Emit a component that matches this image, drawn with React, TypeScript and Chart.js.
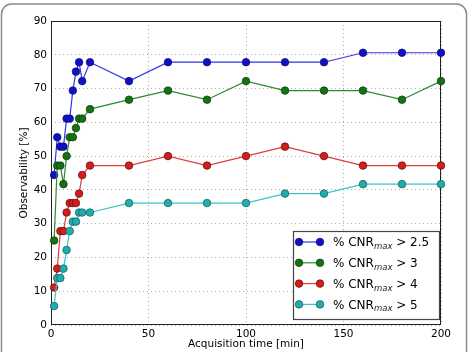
import React, { useEffect, useRef } from "react";
import { Chart, registerables } from "chart.js";

Chart.register(...registerables);

// Acquisition time [min]
const times = [1.6, 3.2, 4.8, 6.4, 8.0, 9.6, 11.2, 12.8, 14.4, 16, 20, 40, 60, 80, 100, 120, 140, 160, 180, 200];
// Observability [%]
const cnr25 = [44.4, 55.6, 52.8, 52.8, 61.1, 61.1, 69.4, 75.0, 77.8, 72.2, 77.8, 72.2, 77.8, 77.8, 77.8, 77.8, 77.8, 80.6, 80.6, 80.6];
const cnr3 = [25.0, 47.2, 47.2, 41.7, 50.0, 55.6, 55.6, 58.3, 61.1, 61.1, 63.9, 66.7, 69.4, 66.7, 72.2, 69.4, 69.4, 69.4, 66.7, 72.2];
const cnr4 = [11.1, 16.7, 27.8, 27.8, 33.3, 36.1, 36.1, 36.1, 38.9, 44.4, 47.2, 47.2, 50.0, 47.2, 50.0, 52.8, 50.0, 47.2, 47.2, 47.2];
const cnr5 = [5.6, 13.9, 13.9, 16.7, 22.2, 27.8, 30.6, 30.6, 33.3, 33.3, 33.3, 36.1, 36.1, 36.1, 36.1, 38.9, 38.9, 41.7, 41.7, 41.7];
const thresholds = ["2.5", "3", "4", "5"];
const seriesValues = [cnr25, cnr3, cnr4, cnr5];

const lineColors = ["#3434e8", "#2e8a2e", "#e03c3c", "#3cc4c4"];
const fillColors = ["#1010cc", "#137313", "#d41c1c", "#22acac"];
const edgeColors = ["#10105a", "#0f3a0f", "#5a1010", "#115a5a"];

const FONT = "'DejaVu Sans', 'Liberation Sans', sans-serif";

const framePlugin = {
  id: "frame",
  beforeDraw(chart: any) {
    const ctx = chart.ctx;
    ctx.save();
    ctx.fillStyle = "#fff";
    ctx.fillRect(0, 0, chart.width, chart.height);
    ctx.strokeStyle = "#8a8a8a";
    ctx.lineWidth = 1.5;
    const x = 1.5, y = 4, w = 465, h = 370, r = 10;
    ctx.beginPath();
    ctx.moveTo(x + r, y);
    ctx.lineTo(x + w - r, y);
    ctx.arcTo(x + w, y, x + w, y + r, r);
    ctx.lineTo(x + w, y + h);
    ctx.moveTo(x, y + h);
    ctx.lineTo(x, y + r);
    ctx.arcTo(x, y, x + r, y, r);
    ctx.stroke();
    ctx.restore();
  },
  beforeDatasetsDraw(chart: any) {
    const { ctx, chartArea } = chart;
    ctx.save();
    ctx.strokeStyle = "#222";
    ctx.lineWidth = 1;
    ctx.strokeRect(
      Math.round(chartArea.left) + 0.5,
      Math.round(chartArea.top) + 0.5,
      Math.round(chartArea.right - chartArea.left) - 1,
      Math.round(chartArea.bottom - chartArea.top) - 1
    );
    ctx.restore();
  },
};

const legendPlugin = {
  id: "mplLegend",
  afterDatasetsDraw(chart: any) {
    const { ctx, chartArea } = chart;
    const w = 146, h = 88;
    const x0 = chartArea.right - 2 - w;
    const y0 = chartArea.bottom - 6 - h;
    ctx.save();
    ctx.fillStyle = "#fff";
    ctx.fillRect(x0, y0, w, h);
    ctx.strokeStyle = "#444";
    ctx.lineWidth = 1.2;
    ctx.strokeRect(Math.round(x0) + 0.5, Math.round(y0) + 0.5, w, h);
    chart.data.datasets.forEach((ds: any, i: number) => {
      const cy = y0 + 11 + i * 20.8;
      const lx1 = x0 + 6, lx2 = x0 + 27;
      ctx.strokeStyle = ds.borderColor;
      ctx.lineWidth = 1.2;
      ctx.beginPath();
      ctx.moveTo(lx1, cy);
      ctx.lineTo(lx2, cy);
      ctx.stroke();
      [lx1, lx2].forEach((px) => {
        ctx.beginPath();
        ctx.arc(px, cy, 3.8, 0, Math.PI * 2);
        ctx.fillStyle = ds.pointBackgroundColor;
        ctx.fill();
        ctx.lineWidth = 0.7;
        ctx.strokeStyle = ds.pointBorderColor;
        ctx.stroke();
      });
      let tx = x0 + 40;
      const base = cy + 4.4;
      ctx.fillStyle = "#000";
      ctx.textBaseline = "alphabetic";
      ctx.textAlign = "left";
      ctx.font = `12px ${FONT}`;
      const a = "% CNR";
      ctx.fillText(a, tx, base);
      tx += ctx.measureText(a).width;
      ctx.font = `italic 8.5px ${FONT}`;
      ctx.fillStyle = "#222";
      const sub = "max";
      ctx.fillText(sub, tx, base + 2.5);
      tx += ctx.measureText(sub).width;
      ctx.font = `12px ${FONT}`;
      ctx.fillStyle = "#000";
      ctx.fillText(" > " + thresholds[i], tx, base);
    });
    ctx.restore();
  },
};

export default function App() {
  const ref = useRef<HTMLCanvasElement | null>(null);
  useEffect(() => {
    document.body.style.margin = "0";
    const canvas = ref.current!;
    const datasets = seriesValues.map((vals, i) => ({
      label: "% CNRmax > " + thresholds[i],
      data: times.map((t, k) => ({ x: t, y: vals[k] })),
      borderColor: lineColors[i],
      backgroundColor: fillColors[i],
      pointBackgroundColor: fillColors[i],
      pointBorderColor: edgeColors[i],
      pointRadius: 3.8,
      pointBorderWidth: 0.7,
      pointHoverRadius: 3.8,
      borderWidth: 1.2,
      tension: 0,
      clip: false as any,
      order: 3 - i,
    }));
    const gridOpts = { color: "rgba(0,0,0,0.45)", lineWidth: 0.7, drawTicks: false };
    const chart = new Chart(canvas, {
      type: "line",
      data: { datasets },
      plugins: [framePlugin, legendPlugin],
      options: {
        responsive: false,
        animation: false,
        layout: { padding: { left: 0, top: 21, right: 27, bottom: 0 } },
        plugins: { legend: { display: false }, tooltip: { enabled: false } },
        scales: {
          x: {
            type: "linear",
            min: 0,
            max: 200,
            afterFit: (s: any) => { s.height = 27; },
            ticks: { stepSize: 50, color: "#000", padding: 3, maxRotation: 0, font: { family: FONT, size: 10.5 } },
            grid: gridOpts,
            border: { display: false, dash: [1, 3] },
            title: { display: true, text: "Acquisition time [min]", color: "#000", padding: { top: 0, bottom: 1.5 }, font: { family: FONT, size: 10.5 } },
          },
          y: {
            min: 0,
            max: 90,
            afterFit: (s: any) => { s.width = 51; },
            ticks: { stepSize: 10, color: "#000", padding: 4, font: { family: FONT, size: 10.5 } },
            grid: gridOpts,
            border: { display: false, dash: [1, 3] },
            title: { display: true, text: "Observability [%]", color: "#000", padding: { top: 18, bottom: 0 }, font: { family: FONT, size: 10.5 } },
          },
        },
      },
    });
    return () => chart.destroy();
  }, []);
  return <canvas ref={ref} width={468} height={352} style={{ display: "block", width: 468, height: 352 }} />;
}
